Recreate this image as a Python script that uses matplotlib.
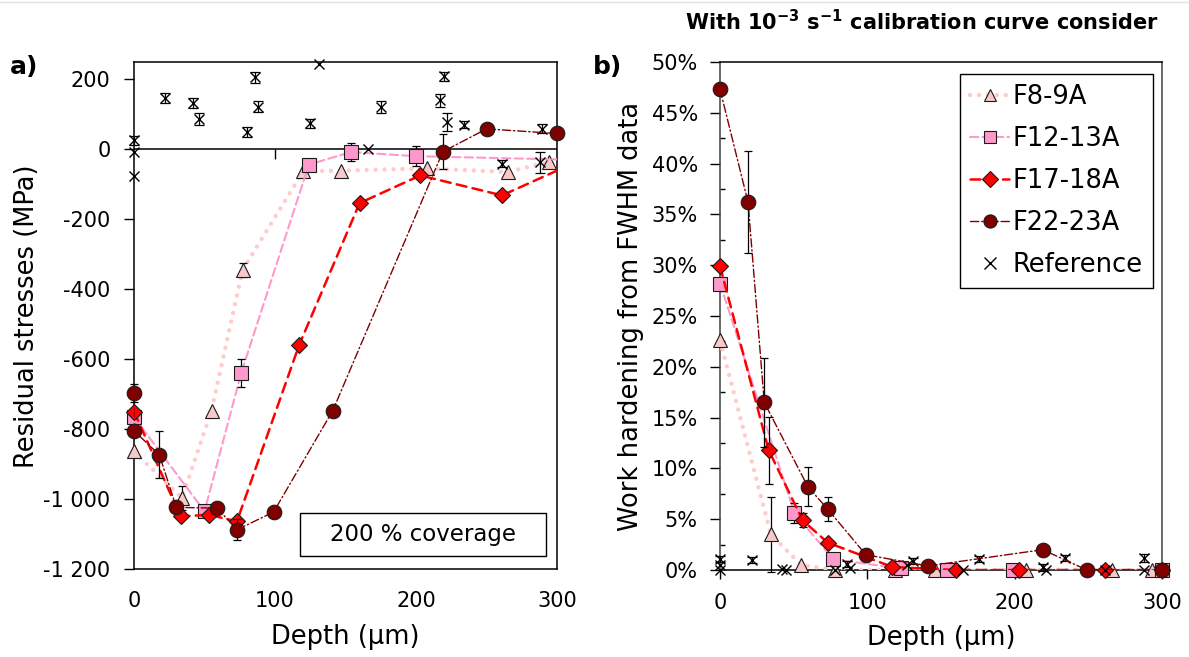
import matplotlib
matplotlib.use('Agg')
import matplotlib.pyplot as plt
import numpy as np
from matplotlib.ticker import FuncFormatter, PercentFormatter, MultipleLocator
from matplotlib.patches import Rectangle
from matplotlib.lines import Line2D

plt.rcParams['font.family'] = ['DejaVu Sans']

# ---- panel a) residual stresses (MPa) vs depth (um)
a_f8_x = [0, 34, 55, 77, 120, 147, 208, 265, 294]
a_f8_y = [-864, -997, -747, -345, -63, -61, -55, -65, -37]
a_f8_e = [0, 35, 0, 20, 0, 0, 0, 0, 0]

a_f12_x = [0, 50, 76, 124, 154, 200, 310]
a_f12_y = [-766, -1035, -640, -44, -8, -20, -30]
a_f12_e = [0, 0, 40, 0, 25, 28, 0]

a_f17_x = [0, 33, 53, 73, 117, 160, 203, 261, 310]
a_f17_y = [-750, -1050, -1045, -1064, -561, -154, -75, -132, -43]
a_f17_e = [0, 0, 0, 0, 0, 0, 0, 0, 0]

a_f22_x = [0, 0, 18, 30, 59, 73, 99, 141, 219, 250, 300]
a_f22_y = [-697, -805, -874, -1024, -1026, -1088, -1037, -747, -7, 58, 45]
a_f22_e = [25, 0, 67, 0, 0, 30, 0, 0, 50, 15, 0]

a_ref_x = [0, 0, 0, 22, 42, 46, 80, 86, 88, 125, 131, 166, 175, 217, 220, 222, 234, 261, 289, 288]
a_ref_y = [25, -8, -78, 146, 132, 86, 50, 205, 122, 74, 245, 0, 121, 140, 208, 78, 70, -42, 59, -37]
a_ref_e = [12, 0, 0, 14, 14, 18, 14, 15, 15, 12, 0, 0, 18, 18, 14, 25, 10, 10, 14, 30]

# ---- panel b) work hardening (%) vs depth (um)
b_f8_x = [0, 34.5, 55, 78, 119, 146, 208, 266, 293]
b_f8_y = [22.6, 3.5, 0.5, 0, 0, 0, 0, 0, 0]
b_f8_e = [0, 3.7, 0, 0, 0, 0, 0, 0, 0]

b_f12_x = [0, 50.5, 77, 123, 154, 199, 300]
b_f12_y = [28.2, 5.6, 1.05, 0.15, 0, 0, 0]
b_f12_e = [0, 1.0, 0, 0, 0, 0, 0]

b_f17_x = [0, 33, 56, 73, 117, 160, 203, 261, 300]
b_f17_y = [29.9, 11.8, 4.9, 2.7, 0.3, 0, 0, 0, 0]
b_f17_e = [0, 3.3, 0.7, 0, 0, 0, 0, 0, 0]

b_f22_x = [0, 19, 30, 59.6, 73, 99, 141, 219, 249, 300]
b_f22_y = [47.3, 36.2, 16.5, 8.2, 6.0, 1.5, 0.4, 2.0, 0, 0]
b_f22_e = [0, 5.0, 4.4, 1.9, 1.2, 0, 0, 0, 0, 0]

b_ref_x = [0, 0, 0, 22, 42, 45, 78, 86, 88, 127, 131, 165, 176, 219, 221, 234, 261, 288, 288]
b_ref_y = [1.05, 0.5, 0, 1.0, 0.07, 0, 0, 0.6, 0.2, 0.5, 0.9, 0, 1.1, 0.25, 0, 1.15, 0, 1.15, 0]
b_ref_e = [0.3, 0, 0, 0.3, 0, 0, 0, 0.3, 0, 0, 0.3, 0, 0.3, 0.3, 0, 0.3, 0, 0.4, 0]

labels = ['F8-9A', 'F12-13A', 'F17-18A', 'F22-23A', 'Reference']

# styles: marker, fill, size, linestyle, linewidth, linecolor
styles = {
    'F8-9A':   dict(marker='^', mfc='#F9C8C8', ms=10, ls=(0, (0.01, 2.0)), lw=3.2, lc='#FFCCCC'),
    'F12-13A': dict(marker='s', mfc='#FF99CC', ms=10, ls=(0, (4, 2)), lw=1.5, lc='#FF99CC'),
    'F17-18A': dict(marker='D', mfc='#FF0000', ms=8.5, ls=(0, (4, 2.5)), lw=1.8, lc='#FF0000'),
    'F22-23A': dict(marker='o', mfc='#800000', ms=10.5, ls=(0, (6, 2, 1, 2)), lw=1.0, lc='#800000'),
}


def draw_series(ax, x, y, err, st, z, xmax=300):
    x = np.asarray(x, float); y = np.asarray(y, float); err = np.asarray(err, float)
    ax.plot(x, y, linestyle=st['ls'], color=st['lc'], lw=st['lw'],
            dash_capstyle='round', zorder=z)
    m = err > 0
    if m.any():
        ax.errorbar(x[m], y[m], yerr=err[m], fmt='none', ecolor='black',
                    elinewidth=0.9, capsize=3, capthick=0.9, zorder=z + 0.1, clip_on=False)
    inside = x <= xmax
    ax.plot(x[inside], y[inside], ls='none', marker=st['marker'], ms=st['ms'],
            mfc=st['mfc'], mec='#1a1a1a', mew=0.8, clip_on=False, zorder=z + 0.5)


def draw_ref(ax, x, y, err, z):
    x = np.asarray(x, float); y = np.asarray(y, float); err = np.asarray(err, float)
    m = err > 0
    ax.errorbar(x[m], y[m], yerr=err[m], fmt='none', ecolor='black',
                elinewidth=0.9, capsize=3.5, capthick=0.9, zorder=z, clip_on=False)
    ax.plot(x, y, ls='none', marker='x', ms=7.5, mec='black', mew=1.0,
            clip_on=False, zorder=z + 0.1)


fig = plt.figure(figsize=(11.89, 6.57), dpi=100)
ax1 = fig.add_axes([0.1127, 0.134, 0.3558, 0.772])
ax2 = fig.add_axes([0.6056, 0.1324, 0.3717, 0.7732])

# ---- panel a
a_data = [(a_f8_x, a_f8_y, a_f8_e), (a_f12_x, a_f12_y, a_f12_e),
          (a_f17_x, a_f17_y, a_f17_e), (a_f22_x, a_f22_y, a_f22_e)]
for i, (name, (x, y, e)) in enumerate(zip(labels[:4], a_data)):
    z = 3 + i if name != 'F22-23A' else 8
    draw_series(ax1, x, y, e, styles[name], z)
draw_ref(ax1, a_ref_x, a_ref_y, a_ref_e, 7)

ax1.set_xlim(0, 300)
ax1.set_ylim(-1200, 250)
ax1.set_xticks([0, 100, 200, 300])
ax1.set_yticks(np.arange(-1200, 201, 200))
ax1.yaxis.set_major_formatter(FuncFormatter(lambda v, p: f"{v:,.0f}".replace(',', ' ')))
ax1.tick_params(axis='y', direction='out', length=7, width=1, pad=10, labelsize=15)
ax1.tick_params(axis='x', length=0, pad=16, labelsize=15)
# x axis crosses at 0: zero line plus its own tick marks
ax1.axhline(0, color='black', lw=1.1, zorder=2)
zero_loc = (0 - (-1200)) / (250 - (-1200))
sec = ax1.secondary_xaxis(zero_loc)
sec.set_xticks([100, 200])
sec.tick_params(direction='out', length=7, width=1, labelbottom=False, labeltop=False,
                bottom=True, top=False)
for s in sec.spines.values():
    s.set_visible(False)
for s in ax1.spines.values():
    s.set_linewidth(1.1)
ax1.set_xlabel('Depth (µm)', fontsize=18.5)
ax1.set_ylabel('Residual stresses (MPa)', fontsize=18.5)
ax1.xaxis.set_label_coords(0.5, -0.108)
ax1.yaxis.set_label_coords(-0.222, 0.499)

ax1.add_patch(Rectangle((0.392, 0.026), 0.582, 0.084, transform=ax1.transAxes,
                        fill=False, ec='black', lw=1.0, zorder=10))
ax1.text(0.683, 0.068, '200 % coverage', transform=ax1.transAxes, ha='center',
         va='center', fontsize=16.5, zorder=10)

# ---- panel b
b_data = [(b_f8_x, b_f8_y, b_f8_e), (b_f12_x, b_f12_y, b_f12_e),
          (b_f17_x, b_f17_y, b_f17_e), (b_f22_x, b_f22_y, b_f22_e)]
for i, (name, (x, y, e)) in enumerate(zip(labels[:4], b_data)):
    z = 3 + i if name != 'F22-23A' else 8
    draw_series(ax2, x, y, e, styles[name], z)
draw_ref(ax2, b_ref_x, b_ref_y, b_ref_e, 7)

ax2.set_xlim(0, 300)
ax2.set_ylim(0, 50)
ax2.set_xticks([0, 100, 200, 300])
ax2.yaxis.set_major_locator(MultipleLocator(5))
ax2.yaxis.set_minor_locator(MultipleLocator(2.5))
ax2.yaxis.set_major_formatter(PercentFormatter(xmax=100, decimals=0))
ax2.tick_params(axis='y', which='major', direction='out', length=7, width=1, pad=9,
                labelsize=15)
ax2.tick_params(axis='y', which='minor', direction='in', length=3.5, width=1)
ax2.tick_params(axis='x', direction='out', length=6.5, width=1, pad=10, labelsize=15)
for s in ax2.spines.values():
    s.set_linewidth(1.1)
ax2.spines['left'].set_color('#404040')
ax2.spines['right'].set_color('#404040')
ax2.set_xlabel('Depth (µm)', fontsize=18.5)
ax2.set_ylabel('Work hardening from FWHM data', fontsize=18.5)
ax2.xaxis.set_label_coords(0.5, -0.108)
ax2.yaxis.set_label_coords(-0.172, 0.5)

handles = []
for name in labels[:4]:
    st = styles[name]
    handles.append(Line2D([], [], linestyle=st['ls'], color=st['lc'], lw=st['lw'],
                          dash_capstyle='round', marker=st['marker'], ms=st['ms'] * 0.9,
                          mfc=st['mfc'], mec='#1a1a1a', mew=0.8))
handles.append(Line2D([], [], ls='none', marker='x', ms=9, mec='black', mew=1.0))
leg = ax2.legend(handles, labels, loc='upper right', bbox_to_anchor=(0.98, 0.976),
                 borderaxespad=0, fontsize=18.5, frameon=True, fancybox=False,
                 framealpha=1, edgecolor='black', handlelength=1.5, handletextpad=0.15,
                 labelspacing=0.62, borderpad=0.4)
leg.get_frame().set_linewidth(1.0)
leg.set_zorder(20)

# ---- titles and panel letters
fig.text(0.974, 0.967, r'With 10$^{\mathbf{-3}}$ s$^{\mathbf{-1}}$ calibration curve consider',
         ha='right', va='center', fontsize=15, fontweight='bold')
fig.text(0.008, 0.898, 'a)', ha='left', va='center', fontsize=18, fontweight='bold')
fig.text(0.499, 0.898, 'b)', ha='left', va='center', fontsize=18, fontweight='bold')
fig.add_artist(Line2D([0, 1], [0.997, 0.997], transform=fig.transFigure,
                      color='#e0e0e0', lw=1.0))

fig.savefig('out.png', dpi=100)
